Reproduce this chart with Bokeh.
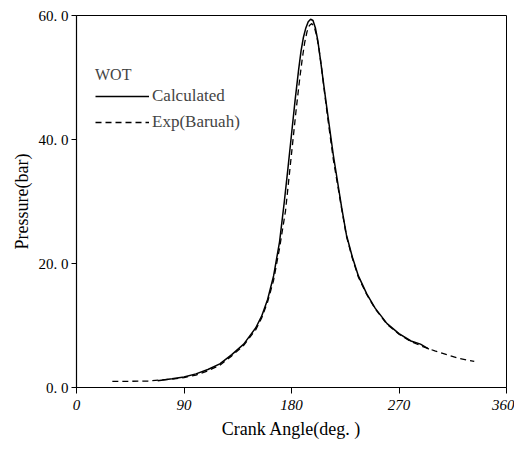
from bokeh.plotting import figure
from bokeh.models import Legend, LegendItem, FixedTicker, Range1d
from bokeh.embed import file_html
from bokeh.resources import INLINE

# Calculated pressure (solid)
calc_angle = [68, 80, 90, 100, 110, 120, 130, 140, 150, 155, 160, 165, 170, 174, 177,
              180, 183, 186, 188, 190, 192, 194, 196, 198, 200, 202, 204, 207, 210,
              215, 222, 226, 231, 236, 243, 250, 260, 270, 280, 288, 295]
calc_p = [1.1, 1.4, 1.7, 2.2, 2.9, 3.8, 5.3, 7.0, 9.6, 11.5, 14.2, 18.0, 23.5, 30.0, 35.3,
          40.8, 46.3, 51.3, 54.3, 56.5, 58.0, 59.0, 59.4, 59.2, 58.0, 56.0, 53.2, 48.8, 44.5,
          37.5, 29.0, 24.6, 21.0, 18.0, 15.1, 12.8, 10.3, 8.7, 7.5, 7.0, 6.2]

# Experimental pressure, Baruah (dashed)
exp_angle = [30, 45, 60, 70, 80, 90, 100, 110, 120, 130, 140, 150, 155, 160, 165, 170,
             175, 178, 181, 184, 187, 189, 191, 193, 195, 197, 199, 201, 203, 205, 208,
             211, 215, 222, 226, 231, 236, 243, 250, 260, 270, 280, 290, 300, 310, 320, 333]
exp_p = [1.0, 1.0, 1.05, 1.2, 1.35, 1.6, 2.0, 2.7, 3.6, 5.1, 6.8, 9.3, 11.2, 13.8, 17.3, 22.5,
         28.5, 34.0, 39.5, 45.0, 50.0, 53.0, 55.6, 57.4, 58.4, 58.7, 58.2, 56.8, 54.6, 51.8, 47.0,
         42.5, 36.8, 28.8, 24.4, 20.8, 17.8, 15.0, 12.7, 10.2, 8.6, 7.4, 6.6, 5.9, 5.3, 4.7, 4.2]

x_ticks = [0, 90, 180, 270, 360]
y_ticks = [0, 20, 40, 60]
y_tick_labels = ["0. 0", "20. 0", "40. 0", "60. 0"]

FONT = "Liberation Serif"

p = figure(width=514, height=458, output_backend="svg", toolbar_location=None,
           x_range=Range1d(0, 360), y_range=Range1d(0, 60),
           min_border_left=76, min_border_right=8, min_border_top=15, min_border_bottom=71)

p.xgrid.visible = False
p.ygrid.visible = False
p.outline_line_color = "black"
p.outline_line_width = 1
p.background_fill_color = "white"
p.border_fill_color = "white"

r_calc = p.line(calc_angle, calc_p, line_color="black", line_width=1.5)
r_exp = p.line(exp_angle, exp_p, line_color="black", line_width=1.3, line_dash="6 4")

p.xaxis.ticker = FixedTicker(ticks=x_ticks)
p.yaxis.ticker = FixedTicker(ticks=y_ticks)
p.yaxis.major_label_overrides = {t: s for t, s in zip(y_ticks, y_tick_labels)}
p.xaxis.major_label_overrides = {t: str(t) for t in x_ticks}

for ax in (p.xaxis[0], p.yaxis[0]):
    ax.axis_line_color = "black"
    ax.axis_line_width = 1.2
    ax.major_tick_line_color = "black"
    ax.minor_tick_line_color = None
    ax.major_label_text_font = FONT
    ax.major_label_text_font_size = "15px"
    ax.major_label_text_color = "black"
    ax.axis_label_text_font = FONT
    ax.axis_label_text_font_size = "18px"
    ax.axis_label_text_font_style = "normal"
    ax.axis_label_text_color = "black"

p.xaxis.major_label_text_font_style = "italic"
p.xaxis.major_tick_out = 6
p.xaxis.major_tick_in = 0
p.xaxis.major_label_standoff = 6
p.xaxis.axis_label = "Crank Angle(deg. )"
p.xaxis.axis_label_standoff = 6

p.yaxis.major_tick_out = 5
p.yaxis.major_tick_in = 0
p.yaxis.major_label_standoff = 3
p.yaxis.axis_label = "Pressure(bar)"
p.yaxis.axis_label_standoff = 4

legend = Legend(items=[LegendItem(label="Calculated", renderers=[r_calc]),
                       LegendItem(label="Exp(Baruah)", renderers=[r_exp])],
                title="WOT", location=(19, 255),
                title_text_font=FONT, title_text_font_size="16px",
                title_text_font_style="normal", title_standoff=2,
                label_text_font=FONT, label_text_font_size="17px",
                glyph_width=54, glyph_height=20, label_height=20,
                label_standoff=3, spacing=6, padding=0, margin=0,
                border_line_color=None, background_fill_alpha=0)
p.add_layout(legend, "center")

open("out.html", "w").write(file_html(p, INLINE))
